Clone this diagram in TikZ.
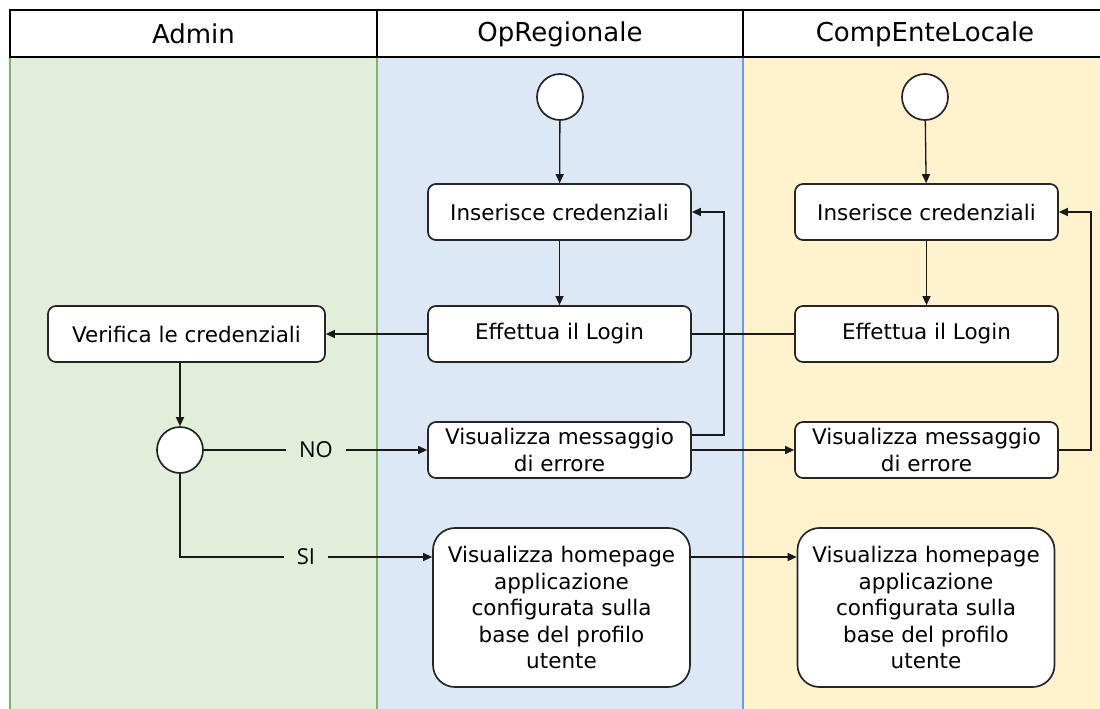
\documentclass[tikz,border=0pt]{standalone}
\usepackage{fontspec}
\setmainfont{DejaVu Sans}
\newfontfamily\lblfont{Open Sans}
\usetikzlibrary{arrows.meta,calc}
\definecolor{lgreen}{HTML}{E1EED9}
\definecolor{bgreen}{HTML}{82B366}
\definecolor{lblue}{HTML}{DCE8F5}
\definecolor{bblue}{HTML}{6A9FDB}
\definecolor{lyellow}{HTML}{FFF2CC}
\begin{document}
\begin{tikzpicture}[x=1pt,y=-1pt,
 box/.style={draw=black!85, line width=1.7pt, rounded corners=8pt, fill=white,
   minimum width=263pt, minimum height=56pt, font=\fontsize{21.5}{26.5}\selectfont,
   align=center, inner sep=0pt},
 bigbox/.style={box, minimum width=257pt, minimum height=159pt, rounded corners=22pt},
 circ/.style={circle, draw=black!85, line width=1.7pt, fill=white, minimum size=46pt, inner sep=0pt},
 conn/.style={line width=1.3pt, draw=black!90},
 arr/.style={conn, -{Triangle[length=9pt,width=8pt]}},
 lbl/.style={font=\lblfont\fontsize{22}{22}\selectfont, inner xsep=13pt, inner ysep=0pt},
 head/.style={font=\fontsize{26}{26}\selectfont}
]
\useasboundingbox (0,0) rectangle (1100,709);
\clip (0,0) rectangle (1100,709);
% lanes
\fill[lgreen] (10,57) rectangle (377,720);
\fill[lblue] (377,57) rectangle (743,720);
\fill[lyellow] (743,57) rectangle (1110,720);
\draw[bgreen, line width=2pt] (10,57) -- (10,720) (377,57) -- (377,720);
\draw[bblue, line width=2pt] (743,57) -- (743,720);
% header
\draw[line width=1.5pt, fill=white] (10,10) rectangle (1110,57);
\draw[line width=1.5pt] (377,10) -- (377,57) (743,10) -- (743,57);
\node[head] (hA) at (193.5,34) {Admin};
\node[head] (hB) at (560,34) {OpRegionale};
\node[head] (hC) at (925,34) {CompEnteLocale};
% nodes
\node[circ] (s1) at (560,97) {};
\node[circ] (s2) at (925,97) {};
\node[box] (i1) at (559.5,212) {Inserisce credenziali};
\node[box] (i2) at (926.5,212) {Inserisce credenziali};
\node[box] (e1) at (559.5,334) {Effettua il Login};
\node[box] (e2) at (926.5,334) {Effettua il Login};
\node[box, minimum width=277pt] (ver) at (186.5,334) {Verifica le credenziali};
\node[circ] (dec) at (180,450) {};
\node[box] (m1) at (559.5,450) {Visualizza messaggio\\di errore};
\node[box] (m2) at (926.5,450) {Visualizza messaggio\\di errore};
\node[bigbox] (h1) at (561.5,607.5) {Visualizza homepage\\applicazione\\configurata sulla\\base del profilo\\utente};
\node[bigbox] (h2) at (926,607.5) {Visualizza homepage\\applicazione\\configurata sulla\\base del profilo\\utente};
\node[lbl] (no) at (316,450) {NO};
\node[lbl] (si) at (306,557) {SI};
% connectors
\draw[arr] (s1) -- (i1);
\draw[arr] (i1) -- (e1);
\draw[arr] (s2) -- (i2);
\draw[arr] (i2) -- (e2);
\draw[arr] (e1) -- (ver);
\draw[conn] (e2) -- (e1);
\draw[arr] (ver.south -| dec) -- (dec);
\draw[conn] (dec) -- (no);
\draw[arr] (no) -- (m1);
\draw[conn] (dec) |- (si);
\draw[arr] (si) -- (si -| h1.west);
\draw[arr] ([yshift=15pt]m1.east) -- ++(32,0) |- (i1.east);
\draw[arr] (m1) -- (m2);
\draw[arr] (m2.east) -- ++(32,0) |- (i2.east);
\draw[arr] (h1.east |- si) -- (h2.west |- si);
\end{tikzpicture}
\end{document}
